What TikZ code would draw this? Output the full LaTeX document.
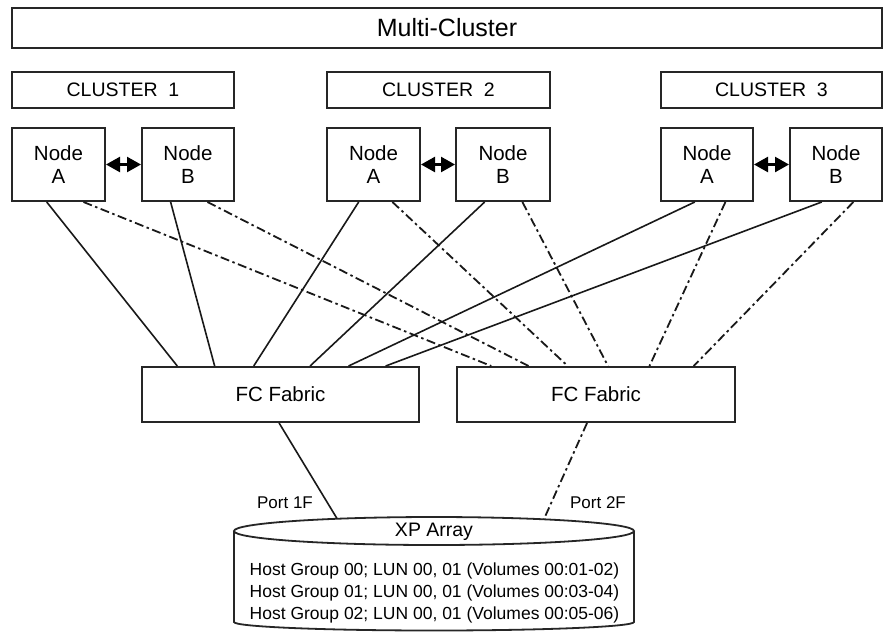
\documentclass[tikz,border=0pt]{standalone}
\usepackage{fontspec}
\setmainfont{Liberation Sans}
\usetikzlibrary{calc,arrows.meta}
\begin{document}
\begin{tikzpicture}[x=1pt,y=-1pt,
  bx/.style={draw=black!85, line width=2pt, rectangle, inner sep=0pt, align=center},
  nodebox/.style={bx, minimum height=73pt, font=\fontsize{20.5}{23}\selectfont},
  clbox/.style={bx, minimum height=36pt, font=\fontsize{19.5}{22}\selectfont},
  fcbox/.style={bx, minimum height=55pt, font=\fontsize{20.5}{23}\selectfont},
  sln/.style={draw=black!90, line width=1.6pt},
  dln/.style={draw=black!90, line width=1.8pt, dash pattern=on 9pt off 3.5pt on 2.5pt off 3.5pt},
  hbi/.style={line width=2.4pt, {Triangle[length=14pt,width=15pt]}-{Triangle[length=14pt,width=15pt]}},
  lbl/.style={inner sep=0pt, font=\fontsize{17}{20}\selectfont},
  hgl/.style={inner sep=0pt, anchor=base, font=\fontsize{17.5}{20}\selectfont}
]
\useasboundingbox (0,0) rectangle (883,633);
\fill[white] (0,0) rectangle (883,633);

% top
\node[bx, minimum width=870pt, minimum height=40pt, font=\fontsize{25}{28}\selectfont] (mc) at (447,28) {Multi-Cluster};

% clusters
\node[clbox, minimum width=222pt] (cl1) at (123,90) {CLUSTER~~1};
\node[clbox, minimum width=223pt] (cl2) at (438.5,90) {CLUSTER~~2};
\node[clbox, minimum width=221pt] (cl3) at (771.5,90) {CLUSTER~~3};

% nodes
\node[nodebox, minimum width=93pt] (c1a) at (58.5,164.5) {Node\\A};
\node[nodebox, minimum width=92pt] (c1b) at (188,164.5) {Node\\B};
\node[nodebox, minimum width=93pt] (c2a) at (373.5,164.5) {Node\\A};
\node[nodebox, minimum width=94pt] (c2b) at (503,164.5) {Node\\B};
\node[nodebox, minimum width=92pt] (c3a) at (707,164.5) {Node\\A};
\node[nodebox, minimum width=92pt] (c3b) at (836,164.5) {Node\\B};

\draw[hbi] (c1a.east) -- (c1b.west);
\draw[hbi] (c2a.east) -- (c2b.west);
\draw[hbi] (c3a.east) -- (c3b.west);

% FC fabrics
\node[fcbox, minimum width=277pt] (fcl) at (280.5,394.5) {FC Fabric};
\node[fcbox, minimum width=278pt] (fcr) at (596,394.5) {FC Fabric};

% solid connectors to left fabric
\draw[sln] ($(c1a.south west)!0.376!(c1a.south east)$) -- ($(fcl.north west)!0.130!(fcl.north east)$);
\draw[sln] ($(c1b.south west)!0.315!(c1b.south east)$) -- ($(fcl.north west)!0.264!(fcl.north east)$);
\draw[sln] ($(c2a.south west)!0.344!(c2a.south east)$) -- ($(fcl.north west)!0.404!(fcl.north east)$);
\draw[sln] ($(c2b.south west)!0.309!(c2b.south east)$) -- ($(fcl.north west)!0.606!(fcl.north east)$);
\draw[sln] ($(c3a.south west)!0.370!(c3a.south east)$) -- ($(fcl.north west)!0.744!(fcl.north east)$);
\draw[sln] ($(c3b.south west)!0.348!(c3b.south east)$) -- ($(fcl.north west)!0.877!(fcl.north east)$);

% dash-dot connectors to right fabric
\draw[dln] ($(c1a.south west)!0.763!(c1a.south east)$) -- ($(fcr.north west)!0.126!(fcr.north east)$);
\draw[dln] ($(c1b.south west)!0.707!(c1b.south east)$) -- ($(fcr.north west)!0.259!(fcr.north east)$);
\draw[dln] ($(c2a.south west)!0.699!(c2a.south east)$) -- ($(fcr.north west)!0.399!(fcr.north east)$);
\draw[dln] ($(c2b.south west)!0.702!(c2b.south east)$) -- ($(fcr.north west)!0.543!(fcr.north east)$);
\draw[dln] ($(c3a.south west)!0.696!(c3a.south east)$) -- ($(fcr.north west)!0.691!(fcr.north east)$);
\draw[dln] ($(c3b.south west)!0.685!(c3b.south east)$) -- ($(fcr.north west)!0.849!(fcr.north east)$);

% XP array cylinder
\draw[line width=1.8pt, draw=black!85] (234,531) -- (234,622) arc[start angle=180, end angle=0, x radius=200, y radius=8.5] -- (634,531);
\draw[line width=1.8pt, draw=black!85, fill=white] (434,531) ellipse[x radius=200, y radius=14];
\node[inner sep=0pt, font=\fontsize{19.5}{22}\selectfont] (xp) at (434,532) {XP Array};
\coordinate (p1f) at (337,518.5);
\coordinate (p2f) at (544,519);

\draw[sln] ($(fcl.south west)!0.495!(fcl.south east)$) -- (p1f);
\draw[dln] ($(fcr.south west)!0.468!(fcr.south east)$) -- (p2f);

\node[lbl] (lp1) at (285,503) {Port 1F};
\node[lbl] (lp2) at (598,503) {Port 2F};

\node[hgl] (hg0) at (434.5,575) {Host Group 00; LUN 00, 01 (Volumes 00:01-02)};
\node[hgl] (hg1) at (434.5,597) {Host Group 01; LUN 00, 01 (Volumes 00:03-04)};
\node[hgl] (hg2) at (434.5,619) {Host Group 02; LUN 00, 01 (Volumes 00:05-06)};
\end{tikzpicture}
\end{document}
